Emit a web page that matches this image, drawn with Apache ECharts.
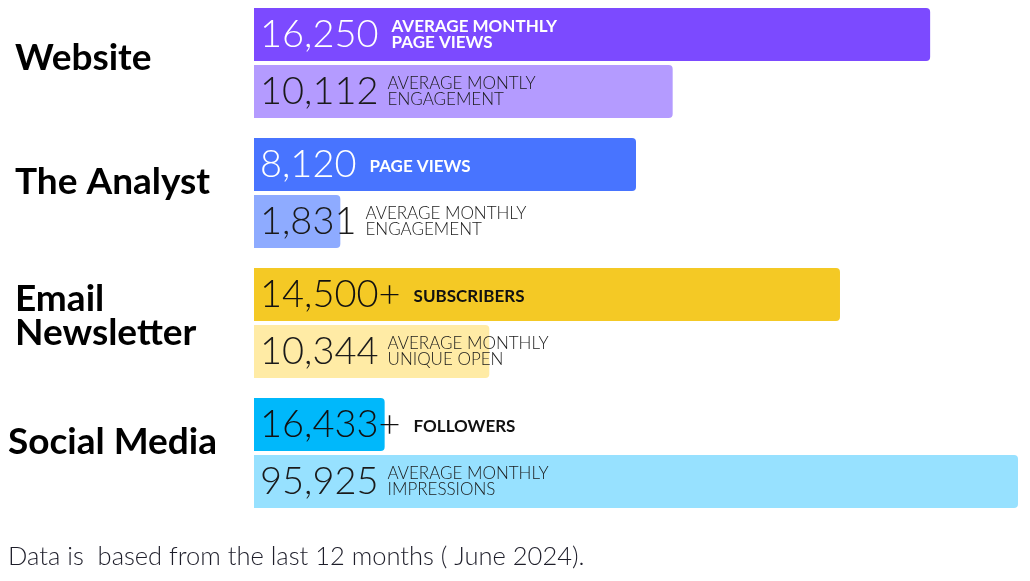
<!DOCTYPE html>
<html>
<head>
<meta charset="utf-8">
<script src="https://cdn.jsdelivr.net/npm/echarts@6/dist/echarts.min.js"></script>
<style>html,body{margin:0;padding:0;background:#fff}#c{width:1030px;height:581px}</style>
</head>
<body>
<div id="c"></div>
<script>
// ---- data ----
const categories = ['Website', 'The Analyst', 'Email\nNewsletter', 'Social Media'];
const primaryValues = [16250, 8120, 14500, 16433];
const primarySuffix = ['', '', '+', '+'];
const primaryLabels = ['AVERAGE MONTHLY\nPAGE VIEWS', 'PAGE VIEWS', 'SUBSCRIBERS', 'FOLLOWERS'];
const primaryBarLength = [88.5, 50.0, 76.7, 17.1];
const secondaryValues = [10112, 1831, 10344, 95925];
const secondarySuffix = ['', '', '', ''];
const secondaryLabels = ['AVERAGE MONTLY\nENGAGEMENT', 'AVERAGE MONTHLY\nENGAGEMENT', 'AVERAGE MONTHLY\nUNIQUE OPEN', 'AVERAGE MONTHLY\nIMPRESSIONS'];
const secondaryBarLength = [54.8, 11.3, 30.8, 100];
const footnote = 'Data is  based from the last 12 months ( June 2024).';

// ---- styles ----
const primaryColors = ['#7c4aff', '#4874ff', '#f4c925', '#00b8fb'];
const secondaryColors = ['#b49bff', '#8eabff', '#ffeba5', '#97e1ff'];
const primaryTextColors = ['#ffffff', '#ffffff', '#111111', '#111111'];
const secondaryTextColors = ['#1a1a1a', '#1a1a1a', '#1a1a1a', '#1a1a1a'];
const numFont = '300 38px Lato';
const descFontBold = 'bold 17px Lato';
const descFontLight = '300 17px Lato';
const labelStyleKeys = ['g0', 'g1', 'g2', 'g3'];

const mctx = document.createElement('canvas').getContext('2d');
function textW(t, font) { mctx.font = font; return mctx.measureText(t).width; }
const fmt = v => v.toLocaleString('en-US');

function makeRender(which) {
  const vals = which === 0 ? primaryValues : secondaryValues;
  const suf = which === 0 ? primarySuffix : secondarySuffix;
  const descs = which === 0 ? primaryLabels : secondaryLabels;
  const colors = which === 0 ? primaryColors : secondaryColors;
  const tcol = which === 0 ? primaryTextColors : secondaryTextColors;
  const dfont = which === 0 ? descFontBold : descFontLight;
  const descGap = which === 0 ? 13 : 9;
  return function (params, api) {
    const i = params.dataIndex;
    const len = api.value(0), cat = api.value(1);
    const p0 = api.coord([0, cat]);
    const p1 = api.coord([len, cat]);
    const band = api.size([0, 1])[1];
    const barH = band * 0.408;
    const gap = band * 0.03;
    const y = which === 0 ? p0[1] - gap / 2 - barH : p0[1] + gap / 2;
    const cy = y + barH / 2;
    const numText = fmt(vals[i]) + suf[i];
    const nx = p0[0] + 6;
    const nw = textW(numText, numFont);
    const singleLine = descs[i].indexOf('\n') < 0;
    return {
      type: 'group',
      children: [
        { type: 'rect', shape: { x: p0[0], y: y, width: p1[0] - p0[0], height: barH, r: [0, 4, 4, 0] },
          style: { fill: colors[i] } },
        { type: 'text', x: nx, y: cy,
          style: { text: numText, font: numFont, fill: tcol[i], align: 'left', verticalAlign: 'middle' } },
        { type: 'text', x: nx + nw + descGap, y: cy + (singleLine ? 2 : 0),
          style: { text: descs[i], font: dfont, fill: tcol[i], align: 'left', verticalAlign: 'middle', lineHeight: 16 } }
      ]
    };
  };
}

const baseRich = { fontFamily: 'Lato', fontWeight: 'bold', fontSize: 37, color: '#000', lineHeight: 34 };
const rich = {
  g0: Object.assign({}, baseRich, { padding: [0, 0, 10, 7] }),
  g1: Object.assign({}, baseRich, { padding: [0, 0, 22, 7] }),
  g2: Object.assign({}, baseRich, { padding: [0, 0, 14, 7] }),
  g3: Object.assign({}, baseRich, { padding: [0, 0, 22, 0] })
};

const chart = echarts.init(document.getElementById('c'));
chart.setOption({
  animation: false,
  title: {
    text: footnote, left: 8, top: 544, padding: 0,
    textStyle: { fontFamily: 'Lato', fontWeight: 300, fontSize: 25.5, color: '#1e1e2a' }
  },
  grid: { left: 254, right: 12, top: -2, height: 520, outerBoundsMode: 'none', containLabel: false },
  xAxis: { type: 'value', min: 0, max: 100, show: false },
  yAxis: {
    type: 'category', inverse: true,
    data: categories,
    axisLine: { show: false }, axisTick: { show: false }, splitLine: { show: false },
    axisLabel: {
      align: 'left', verticalAlign: 'middle', margin: 246,
      formatter: (v, i) => v.split('\n').map(s => '{' + labelStyleKeys[i] + '|' + s + '}').join('\n'),
      rich: rich
    }
  },
  series: [
    { type: 'custom', renderItem: makeRender(0), clip: false,
      data: primaryBarLength.map((v, i) => [v, i]), encode: { x: 0, y: 1 } },
    { type: 'custom', renderItem: makeRender(1), clip: false,
      data: secondaryBarLength.map((v, i) => [v, i]), encode: { x: 0, y: 1 } }
  ]
});
</script>
</body>
</html>
